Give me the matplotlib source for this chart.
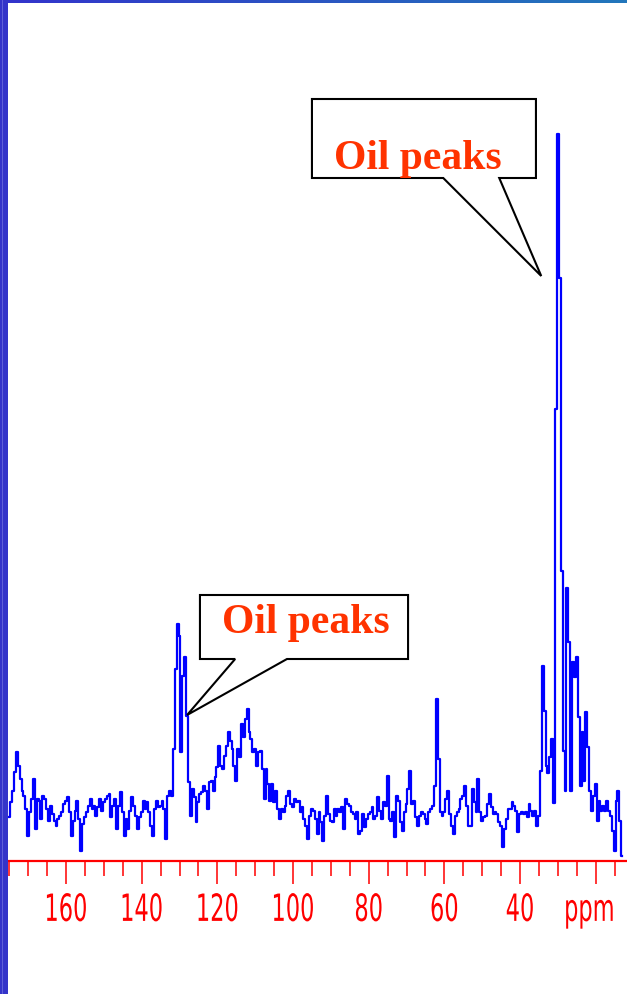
import numpy as np
import matplotlib
matplotlib.use("Agg")
import matplotlib.pyplot as plt
from matplotlib.patches import Polygon, Rectangle
from matplotlib.colors import LinearSegmentedColormap
from matplotlib.ticker import MultipleLocator
from matplotlib.patheffects import AbstractPathEffect
from matplotlib.transforms import Affine2D

# --- 13C NMR spectrum of an oil-bearing sample -------------------------------
# chemical-shift grid (ppm), 0.5 ppm spacing from 175 down to 13 ppm
shift_first, shift_last, shift_step = 175.0, 13.0, 0.5

# signal intensity (arbitrary units) along the grid, split by region
intensity_175_135 = [
    44, 59, 70, 89, 109, 95, 82, 70, 65, 52,
    25, 49, 62, 82, 32, 62, 60, 42, 65, 62,
    52, 40, 55, 47, 40, 35, 42, 45, 49, 57,
    60, 64, 49, 25, 40, 50, 60, 42, 10, 37,
    44, 49, 55, 62, 52, 55, 45, 54, 62, 50,
    59, 62, 65, 67, 44, 55, 62, 32, 55, 69,
    49, 25, 42, 32, 50, 64, 55, 45, 32, 44,
    49, 60, 52, 59, 49, 35, 25, 52, 60, 54,
]
intensity_135_95 = [
    55, 60, 52, 22, 65, 70, 65, 112, 192, 237,
    225, 109, 185, 204, 145, 79, 45, 72, 64, 39,
    59, 67, 69, 75, 70, 52, 79, 80, 70, 84,
    94, 115, 95, 92, 105, 115, 129, 120, 112, 95,
    80, 112, 104, 137, 124, 142, 152, 129, 122, 109,
    112, 95, 109, 110, 92, 62, 92, 77, 60, 77,
    59, 70, 52, 42, 52, 49, 55, 65, 70, 57,
    54, 62, 59, 60, 49, 54, 42, 35, 22, 45,
    52, 50,
]
intensity_94_54 = [
    42, 27, 49, 39, 20, 45, 65, 47, 40, 39,
    52, 45, 52, 49, 54, 32, 62, 57, 55, 49,
    47, 42, 49, 27, 30, 47, 34, 42, 47, 49,
    54, 42, 45, 64, 50, 42, 59, 55, 85, 42,
    40, 49, 24, 65, 60, 39, 30, 49, 57, 72,
    90, 57, 60, 44, 35, 45, 49, 47, 42, 37,
    49, 52, 55, 75, 162, 102, 49, 45, 49, 62,
    70, 47, 35, 27, 45, 49, 52, 62, 65, 75,
    55, 35,
]
intensity_53_13 = [
    35, 72, 59, 49, 82, 49, 40, 44, 45, 57,
    67, 54, 47, 49, 47, 39, 35, 14, 32, 42,
    52, 52, 59, 55, 50, 29, 47, 49, 47, 49,
    44, 57, 50, 45, 50, 35, 45, 90,
    195, 150, 95, 88, 104, 122, 58, 452, 727, 583,
    290, 110, 70, 273, 219, 70, 199, 184, 204, 144,
    75, 129, 80, 149, 114, 70, 50, 65, 77, 40,
    60, 50, 55, 50, 60, 50, 45, 30, 10, 60,
    70, 40, 5,
]

tick_values = [160, 140, 120, 100, 80, 60, 40, 20]
tick_labels = ["160", "140", "120", "100", "80", "60", "40", ""]
unit_label = "ppm"
callout_text = "Oil peaks"

intensity = np.array(intensity_175_135 + intensity_135_95
                     + intensity_94_54 + intensity_53_13, dtype=float)
shifts = shift_first - shift_step * np.arange(intensity.size)


class TallGlyphs(AbstractPathEffect):
    """Draw text glyphs stretched vertically away from their baseline."""

    def __init__(self, sy):
        super().__init__()
        self.sy = sy

    def draw_path(self, renderer, gc, tpath, affine, rgbFace=None):
        y0 = affine.get_matrix()[1, 2]
        stretch = Affine2D().translate(0, -y0).scale(1, self.sy).translate(0, y0)
        renderer.draw_path(gc, tpath, affine + stretch, rgbFace)


# --- figure -------------------------------------------------------------------
W, H, DPI = 627, 995, 100
fig = plt.figure(figsize=(W / DPI, H / DPI), dpi=DPI, facecolor="white")


def px_rect(x0, y0, x1, y1):
    """Rectangle given in pixels from the top-left corner -> figure fraction."""
    return [x0 / W, 1 - y1 / H, (x1 - x0) / W, (y1 - y0) / H]


ax = fig.add_axes(px_rect(9.25, 102, 626, 862))
ax.set_xlim(175, 12)
ax.set_ylim(0, 760)
ax.set_facecolor("white")

ax.plot(shifts, intensity, color="#0000ff", lw=1.6, drawstyle="steps-mid",
        zorder=2, clip_on=False)

for side in ("top", "left", "right"):
    ax.spines[side].set_visible(False)
ax.spines["bottom"].set_color("#ff0000")
ax.spines["bottom"].set_linewidth(1.6)
ax.yaxis.set_visible(False)

major_len, label_pad, label_size = 16.5, 15.1, 16.2
ax.set_xticks(tick_values, tick_labels)
ax.xaxis.set_minor_locator(MultipleLocator(5))
ax.tick_params(axis="x", which="major", direction="out", length=major_len,
               width=1.1, color="#ff0000", labelcolor="#ff0000",
               labelsize=label_size, pad=label_pad)
ax.tick_params(axis="x", which="minor", direction="out", length=10.5,
               width=1.1, color="#ff0000")
for lab in ax.get_xticklabels():
    lab.set_fontfamily(["DejaVu Sans"])
    lab.set_path_effects([TallGlyphs(1.667)])

# unit name sits on the tick-label row, just left of the 20 ppm tick
ax.annotate(unit_label, xy=(21.7, 0), xycoords=("data", "axes fraction"),
            xytext=(0, -(major_len + label_pad)), textcoords="offset points",
            ha="center", va="top", fontsize=label_size, color="#ff0000",
            fontfamily=["DejaVu Sans"], annotation_clip=False,
            path_effects=[TallGlyphs(1.667)])

# --- callouts -------------------------------------------------------------------
callouts = [
    # box (left, right, top, bottom), pointer base (x1, x2), tip, text anchor
    dict(box=(95.0, 35.8, 762, 683), base=(60.3, 45.5), tip=(34.4, 585),
         text=(67.1, 693)),
    dict(box=(124.6, 69.6, 266, 202), base=(115.3, 101.6), tip=(128.0, 146),
         text=(96.7, 229)),
]
for c in callouts:
    l, r, t, b = c["box"]
    b1, b2 = c["base"]
    verts = [(l, t), (r, t), (r, b), (b2, b), c["tip"], (b1, b), (l, b)]
    ax.add_patch(Polygon(verts, closed=True, facecolor="white",
                         edgecolor="black", lw=1.5, joinstyle="miter",
                         zorder=3, clip_on=False))
    ax.text(*c["text"], callout_text, ha="center", va="baseline",
            fontfamily=["Liberation Serif", "DejaVu Serif"],
            fontweight="bold", fontsize=30, color="#ff3300", zorder=4,
            clip_on=False)

# --- slide frame: blue band on top and along the left edge ----------------------
band = fig.add_axes(px_rect(0, 0, W, 4))
band.imshow(np.linspace(0, 1, 256)[None, :], aspect="auto",
            cmap=LinearSegmentedColormap.from_list(
                "band", ["#3333cc", "#2b55c2", "#2277bb"]))
band.axis("off")
fig.patches.append(Rectangle((0, 0), 8 / W, 1, transform=fig.transFigure,
                             facecolor="#3434c9", edgecolor="none", zorder=5))
fig.patches.append(Rectangle((2 / W, 0), 1 / W, 1, transform=fig.transFigure,
                             facecolor="#6060d8", edgecolor="none", zorder=6))

fig.savefig("out.png", dpi=DPI, facecolor="white")
